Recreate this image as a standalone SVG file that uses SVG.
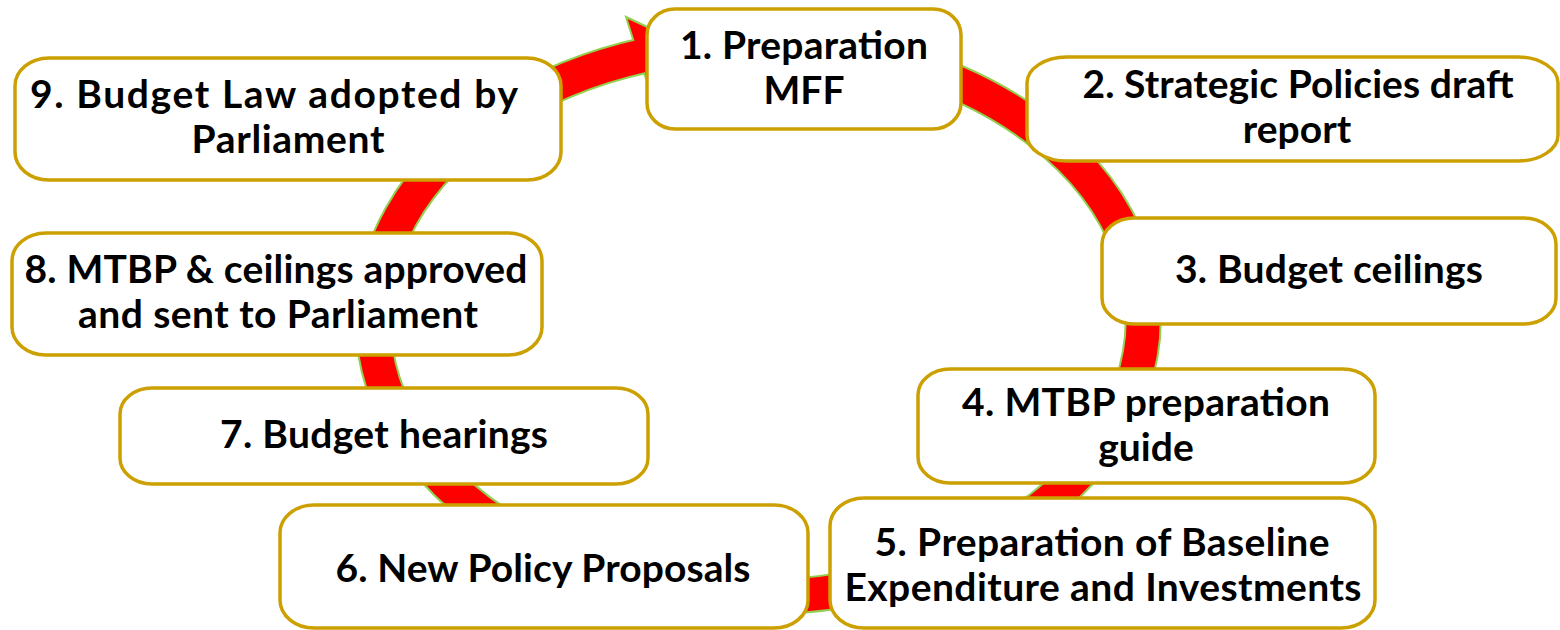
<svg xmlns="http://www.w3.org/2000/svg" width="1560" height="630" viewBox="0 0 1560 630">
<style>
.box{fill:#FFFFFF;stroke:#CCA000;stroke-width:3.5}
.t{font-family:Lato,"Open Sans","Liberation Sans",sans-serif;font-weight:700;font-size:39px;fill:#000000;text-anchor:middle}
.ringo{fill:none;stroke:#92D050;stroke-width:37}
.ringi{fill:none;stroke:#FF0000;stroke-width:33}
</style>
<rect width="1560" height="630" fill="#FFFFFF"/>
<g id="connectors">
<path class="ringo" d="M 900 62.5 A 385 277 0 1 1 665 51.2"/>
<polygon points="632,36 626,17 692,48 656,102 645,76" fill="#FF0000" stroke="#92D050" stroke-width="2"/>
<path class="ringi" d="M 900 62.5 A 385 277 0 1 1 665 51.2"/>
</g>
<g id="node1">
<rect class="box" x="647" y="9" width="314" height="120" rx="28" ry="26"/>
<text class="t" x="804" y="59" textLength="248">1. Preparation</text>
<text class="t" x="804" y="104">MFF</text>
</g>
<g id="node2">
<rect class="box" x="1027" y="57" width="531" height="104" rx="40" ry="26"/>
<text class="t" x="1298" y="98" textLength="431">2. Strategic Policies draft</text>
<text class="t" x="1297" y="143">report</text>
</g>
<g id="node3">
<rect class="box" x="1102" y="218" width="454" height="106" rx="32" ry="26"/>
<text class="t" x="1329" y="283" textLength="308">3. Budget ceilings</text>
</g>
<g id="node4">
<rect class="box" x="918" y="369" width="457" height="114" rx="32" ry="26"/>
<text class="t" x="1146" y="416" textLength="368">4. MTBP preparation</text>
<text class="t" x="1146" y="461">guide</text>
</g>
<g id="node5">
<rect class="box" x="830" y="498" width="545" height="130" rx="34" ry="28"/>
<text class="t" x="1102" y="556" textLength="455">5. Preparation of Baseline</text>
<text class="t" x="1103" y="601" textLength="517">Expenditure and Investments</text>
</g>
<g id="node6">
<rect class="box" x="280" y="505" width="528" height="123" rx="34" ry="28"/>
<text class="t" x="543" y="582" textLength="415">6. New Policy Proposals</text>
</g>
<g id="node7">
<rect class="box" x="120" y="388" width="528" height="96" rx="32" ry="26"/>
<text class="t" x="384" y="448" textLength="328">7. Budget hearings</text>
</g>
<g id="node8">
<rect class="box" x="12" y="233" width="530" height="122" rx="34" ry="28"/>
<text class="t" x="276" y="283" textLength="503">8. MTBP &amp; ceilings approved</text>
<text class="t" x="278" y="328" textLength="400">and sent to Parliament</text>
</g>
<g id="node9">
<rect class="box" x="15" y="58" width="546" height="122" rx="34" ry="28"/>
<text class="t" x="274" y="108" textLength="488">9. Budget Law adopted by</text>
<text class="t" x="288" y="153" textLength="193">Parliament</text>
</g>
</svg>
